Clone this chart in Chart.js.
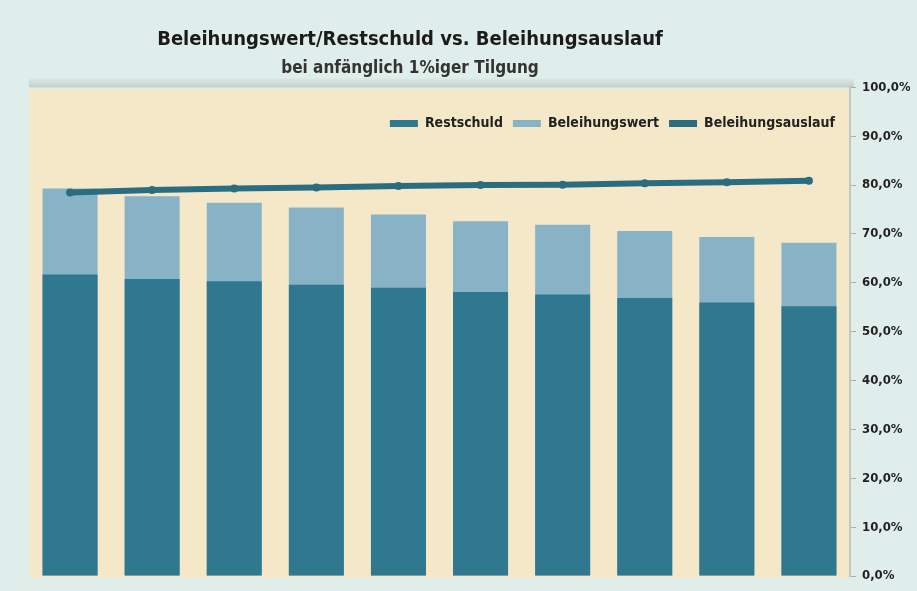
<!DOCTYPE html>
<html lang="de">
<head>
<meta charset="utf-8">
<title>Beleihungswert/Restschuld vs. Beleihungsauslauf</title>
<script src="https://cdn.jsdelivr.net/npm/chart.js@4/dist/chart.umd.min.js"></script>
<style>
  html, body { margin: 0; padding: 0; background: #dfeeeb; }
  #wrap { width: 917px; height: 591px; position: relative; }
</style>
</head>
<body>
<div id="wrap"><canvas id="chartCanvas" width="917" height="591"></canvas></div>
<script>
// Jahre der Laufzeit (werden nicht beschriftet)
const jahre = ['Jahr 1', 'Jahr 2', 'Jahr 3', 'Jahr 4', 'Jahr 5', 'Jahr 6', 'Jahr 7', 'Jahr 8', 'Jahr 9', 'Jahr 10'];

// Werte in Prozent
const restschuld = [61.7, 60.8, 60.3, 59.6, 59.0, 58.1, 57.6, 56.9, 56.0, 55.2];
const beleihungswert = [79.3, 77.7, 76.4, 75.4, 74.0, 72.6, 71.9, 70.6, 69.4, 68.2];
const beleihungsauslauf = [78.5, 79.0, 79.3, 79.5, 79.8, 80.0, 80.1, 80.4, 80.6, 80.9];

// Achse rechts: 0 bis 100 in 10er-Schritten
const achseMin = 0;
const achseMax = 100;
const achseSchritt = 10;

const fontSchmal = "'Liberation Sans Narrow', 'DejaVu Sans Condensed', sans-serif";

// Beiger Hintergrund hinter der Zeichenfläche + leichter Schatten oben
const hintergrund = {
  id: 'hintergrund',
  beforeDraw(chart) {
    const { ctx, chartArea: a } = chart;
    ctx.save();
    const grad = ctx.createLinearGradient(0, a.top - 10, 0, a.top);
    grad.addColorStop(0, 'rgba(190,196,190,0)');
    grad.addColorStop(1, 'rgba(190,196,190,0.8)');
    ctx.fillStyle = grad;
    ctx.fillRect(a.left, a.top - 10, a.right - a.left + 4, 10);
    ctx.fillStyle = '#f4e8c8';
    ctx.fillRect(a.left, a.top + 2, a.right - a.left, a.bottom - a.top);
    ctx.restore();
  }
};

// Legende in der Zeichenfläche (oben rechts), Titel etwas nach links
const legendeInnen = {
  id: 'legendeInnen',
  beforeLayout(chart) {
    const leg = chart.legend;
    if (leg && !leg._innen) {
      const fit = leg.fit;
      leg.fit = function () {
        fit.call(this);
        this.height = 0;
      };
      leg._innen = true;
    }
  },
  afterLayout(chart) {
    const leg = chart.legend;
    const a = chart.chartArea;
    leg.top = a.top + 19;
    leg.bottom = leg.top + 30;
    leg.right = a.right - 5;

    // Titel und Untertitel über x = 410 zentrieren
    const TitelKlasse = chart.titleBlock.constructor;
    chart.boxes.forEach(b => {
      if (b instanceof TitelKlasse) { b.left = 0; b.right = 820; }
    });
  }
};

const ctx = document.getElementById('chartCanvas').getContext('2d');

new Chart(ctx, {
  data: {
    labels: jahre,
    datasets: [
      {
        type: 'bar',
        label: 'Restschuld',
        data: restschuld,
        backgroundColor: '#2f7890',
        order: 1,
        grouped: false,
        barPercentage: 0.67,
        categoryPercentage: 1.0
      },
      {
        type: 'bar',
        label: 'Beleihungswert',
        data: beleihungswert,
        backgroundColor: '#88b2c5',
        order: 2,
        grouped: false,
        barPercentage: 0.67,
        categoryPercentage: 1.0
      },
      {
        type: 'line',
        label: 'Beleihungsauslauf',
        data: beleihungsauslauf,
        borderColor: '#2b6d80',
        backgroundColor: '#2b6d80',
        borderWidth: 6,
        pointRadius: 4,
        pointBackgroundColor: '#2b6d80',
        pointBorderWidth: 0,
        order: 0
      }
    ]
  },
  options: {
    responsive: false,
    animation: false,
    layout: {
      padding: { left: 29, right: 7, top: 0, bottom: 15 }
    },
    plugins: {
      title: {
        display: true,
        text: 'Beleihungswert/Restschuld vs. Beleihungsauslauf',
        color: '#1b1b1b',
        font: { family: fontSchmal, size: 20, weight: 'bold', lineHeight: 1.2 },
        padding: { top: 28, bottom: 0 }
      },
      subtitle: {
        display: true,
        text: 'bei anfänglich 1%iger Tilgung',
        color: '#333333',
        font: { family: fontSchmal, size: 17, weight: 'bold', lineHeight: 1.2 },
        padding: { top: 6, bottom: 9 }
      },
      legend: {
        display: true,
        position: 'top',
        align: 'end',
        labels: {
          color: '#222222',
          font: { family: fontSchmal, size: 14, weight: 'bold' },
          boxWidth: 28,
          boxHeight: 7,
          padding: 10,
          sort: (a, b) => a.datasetIndex - b.datasetIndex,
          generateLabels(chart) {
            const items = Chart.defaults.plugins.legend.labels.generateLabels(chart);
            items.forEach(it => { it.lineWidth = 0; });
            return items;
          }
        }
      },
      tooltip: { enabled: false }
    },
    scales: {
      x: {
        display: false,
        offset: true
      },
      y: {
        position: 'right',
        min: achseMin,
        max: achseMax,
        ticks: {
          stepSize: achseSchritt,
          color: '#222222',
          padding: 6,
          font: { family: "'DejaVu Sans Condensed', sans-serif", size: 13, weight: 'bold' },
          callback: (v) => v.toFixed(1).replace('.', ',') + '%'
        },
        grid: {
          drawOnChartArea: false,
          drawTicks: true,
          tickLength: 6,
          color: '#a9b0aa'
        },
        border: { display: true, color: '#c3c7bd', width: 2 },
        afterFit(axis) { axis.width = 60; }
      }
    }
  },
  plugins: [hintergrund, legendeInnen]
});
</script>
</body>
</html>
